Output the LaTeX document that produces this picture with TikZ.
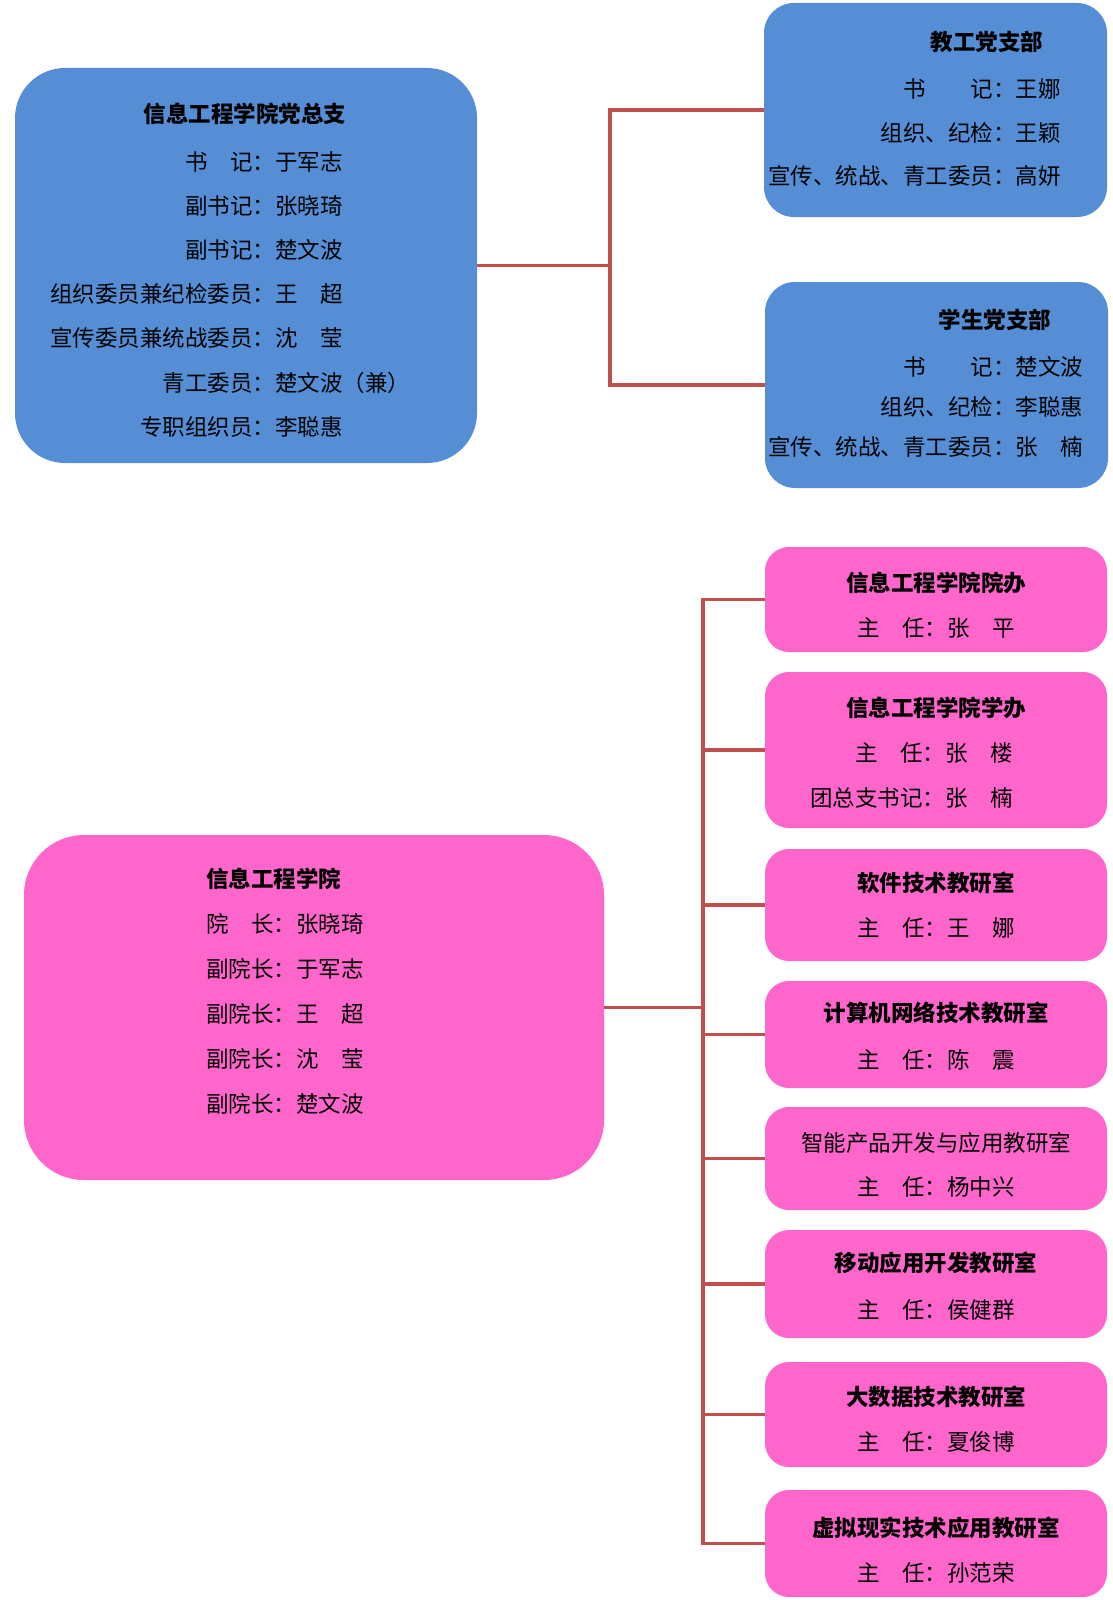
\documentclass[tikz,border=0pt]{standalone}
\usepackage{fontspec}
\setmainfont{Noto Sans CJK SC}
\definecolor{dangblue}{HTML}{558ED5}
\definecolor{yuanpink}{HTML}{FF66CC}
\definecolor{linkred}{HTML}{C0504D}

\begin{document}
\begin{tikzpicture}[x=1pt,y=-1pt,font=\fontsize{22.5}{44}\selectfont,
  blue/.style={fill=dangblue,inner sep=0pt},
  pink/.style={fill=yuanpink,inner sep=0pt,rounded corners=24pt,minimum width=342pt},
  head/.style={inner sep=0pt,anchor=base,font=\fontsize{22.5}{44}\selectfont\bfseries},
  body/.style={inner sep=0pt,anchor=base west},
  conn/.style={draw=linkred,line width=3.5pt}]
  \useasboundingbox (0,0) rectangle (1112,1600);

  % party branches
  \node[blue,rounded corners=50pt,minimum width=462pt,minimum height=395pt] (zongzhi) at (246,265.5) {};
  \node[head] (zongzhi-t) at (245,123) {信息工程学院党总支};
  \node[body,font=\fontsize{22.5}{44.2}\selectfont] (zongzhi-b) at (50,170) {\begin{tabular}[t]{@{}r@{}l@{}}
    书　记：&于军志\\ 副书记：&张晓琦\\ 副书记：&楚文波\\
    组织委员兼纪检委员：&王　超\\ 宣传委员兼统战委员：&沈　莹\\
    青工委员：&楚文波（兼）\\ 专职组织员：&李聪惠\end{tabular}};

  \node[blue,rounded corners=30pt,minimum width=343pt,minimum height=214pt] (jiaogong) at (935.5,110) {};
  \node[head] (jiaogong-t) at (987,51) {教工党支部};
  \node[body,font=\fontsize{22.5}{43.5}\selectfont] (jiaogong-b) at (768,98) {\begin{tabular}[t]{@{}r@{}l@{}}
    书　　记：&王娜\\ 组织、纪检：&王颖\\ 宣传、统战、青工委员：&高妍\end{tabular}};

  \node[blue,rounded corners=30pt,minimum width=343pt,minimum height=206pt] (xuesheng) at (936.5,385) {};
  \node[head] (xuesheng-t) at (995,328) {学生党支部};
  \node[body,font=\fontsize{22.5}{40}\selectfont] (xuesheng-b) at (768,375) {\begin{tabular}[t]{@{}r@{}l@{}}
    书　　记：&楚文波\\ 组织、纪检：&李聪惠\\ 宣传、统战、青工委员：&张　楠\end{tabular}};

  \draw[conn] (zongzhi.east) -- ++(133,0) coordinate (fork1);
  \draw[conn] (jiaogong.west) -| (fork1) |- (xuesheng.west);

  % college offices
  \node[fill=yuanpink,inner sep=0pt,rounded corners=60pt,minimum width=580pt,minimum height=345pt] (xueyuan) at (314,1007.5) {};
  \node[body,font=\fontsize{22.5}{45}\selectfont] (xueyuan-b) at (206,887) {\begin{tabular}[t]{@{}l@{}}
    \textbf{信息工程学院}\\ 院　长：张晓琦\\ 副院长：于军志\\ 副院长：王　超\\ 副院长：沈　莹\\ 副院长：楚文波\end{tabular}};

  \node[pink,minimum height=156pt] (xueban) at (936,750) {};
  \node[head] (xueban-t) at (936,716) {信息工程学院学办};
  \node[body,font=\fontsize{22.5}{45}\selectfont] (xueban-b) at (810,761) {\begin{tabular}[t]{@{}r@{}l@{}}
    主　任：&张　楼\\ 团总支书记：&张　楠\end{tabular}};

  \foreach \n/\cy/\h/\t/\ty/\p/\py in {
    yuanban/599.5/105/信息工程学院院办/583/张　平/628,
    ruanjian/905/112/软件技术教研室/883/王　娜/928,
    wangluo/1034.5/107/计算机网络技术教研室/1013/陈　震/1060,
    zhineng/1158.5/103/\mdseries 智能产品开发与应用教研室/1143/杨中兴/1187,
    yidong/1284/108/移动应用开发教研室/1263/侯健群/1310,
    dashuju/1414.5/105/大数据技术教研室/1397/夏俊博/1442,
    xuni/1543.5/107/虚拟现实技术应用教研室/1528/孙范荣/1573}{
    \node[pink,minimum height=\h pt] (\n) at (936,\cy) {};
    \node[head] (\n-t) at (936,\ty+8) {\t};
    \node[inner sep=0pt,anchor=base] (\n-p) at (936,\py+8) {主　任：\p};
  }

  \draw[conn] (xueyuan.east) -- ++(99,0) coordinate (fork2);
  \draw[conn] (yuanban.west) -| (fork2) |- (xuni.west);
  \foreach \n in {xueban,ruanjian,wangluo,zhineng,yidong,dashuju}
    \draw[conn] (\n.west) -- (fork2 |- \n.west);
\end{tikzpicture}
\end{document}
